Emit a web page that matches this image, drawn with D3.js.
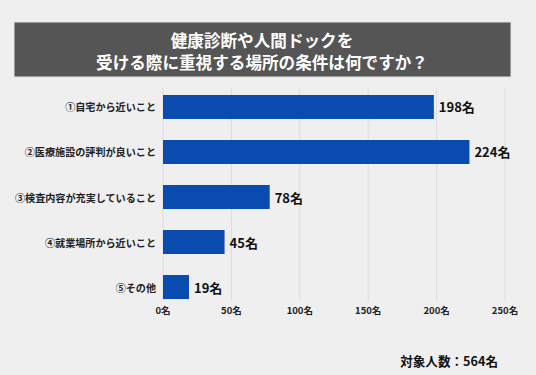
<!DOCTYPE html>
<html><head><meta charset="utf-8">
<script src="https://cdn.jsdelivr.net/npm/d3@7"></script>
<style>body{margin:0;background:#efefef;}svg{display:block;font-family:"Noto Sans CJK JP","Noto Sans",sans-serif;}</style>
</head><body>
<script>
const titleLines = ["健康診断や人間ドックを", "受ける際に重視する場所の条件は何ですか？"];
const categories = ["①自宅から近いこと", "②医療施設の評判が良いこと", "③検査内容が充実していること", "④就業場所から近いこと", "⑤その他"];
const values = [198, 224, 78, 45, 19];
const ticks = [0, 50, 100, 150, 200, 250];
const unit = "名";
const note = "対象人数：564名";

const W = 536, H = 375;
const svg = d3.select("body").append("svg").attr("width", W).attr("height", H);
svg.append("rect").attr("width", W).attr("height", H).attr("fill", "#efefef");

svg.append("rect").attr("x", 14).attr("y", 22).attr("width", 497).attr("height", 55)
  .attr("fill", "#555555").attr("stroke", "#e4e4e4").attr("stroke-width", 1);
svg.selectAll(".title").data(titleLines).enter().append("text")
  .attr("x", 262).attr("y", (d, i) => 39.5 + i * 22.5)
  .attr("text-anchor", "middle").attr("dominant-baseline", "central")
  .attr("fill", "#fff").attr("font-size", 16.6).attr("font-weight", 700).text(d => d);

const x = d3.scaleLinear().domain([0, 250]).range([163, 505]);
const y = d3.scaleBand().domain(categories).range([88, 306]).paddingInner(0.467).paddingOuter(0.155);

svg.append("g").selectAll("line").data(ticks).enter().append("line")
  .attr("x1", d => x(d)).attr("x2", d => x(d)).attr("y1", 88).attr("y2", 301)
  .attr("stroke", "#dcdcdc").attr("stroke-width", 1);

svg.append("g").selectAll("rect").data(values).enter().append("rect")
  .attr("x", x(0)).attr("y", (d, i) => y(categories[i]))
  .attr("width", d => x(d) - x(0)).attr("height", y.bandwidth())
  .attr("fill", "#0a4bb0");

svg.append("g").selectAll("text").data(values).enter().append("text")
  .attr("x", d => x(d) + 5).attr("y", (d, i) => y(categories[i]) + y.bandwidth() / 2)
  .attr("dominant-baseline", "central").attr("font-size", 13).attr("font-weight", 700)
  .attr("fill", "#111").text(d => d + unit);

svg.append("g").selectAll("text").data(categories).enter().append("text")
  .attr("x", 156).attr("y", d => y(d) + y.bandwidth() / 2)
  .attr("text-anchor", "end").attr("dominant-baseline", "central")
  .attr("font-size", 10.1).attr("font-weight", 700).attr("fill", "#222").text(d => d);

svg.append("g").selectAll("text").data(ticks).enter().append("text")
  .attr("x", d => x(d)).attr("y", 310).attr("text-anchor", "middle").attr("dominant-baseline", "central")
  .attr("font-size", 9.5).attr("font-weight", 700).attr("fill", "#222").text(d => d + unit);

svg.append("text").attr("x", 498).attr("y", 360).attr("text-anchor", "end").attr("dominant-baseline", "central")
  .attr("font-size", 12.6).attr("font-weight", 700).attr("fill", "#111").text(note);
</script>
</body></html>
